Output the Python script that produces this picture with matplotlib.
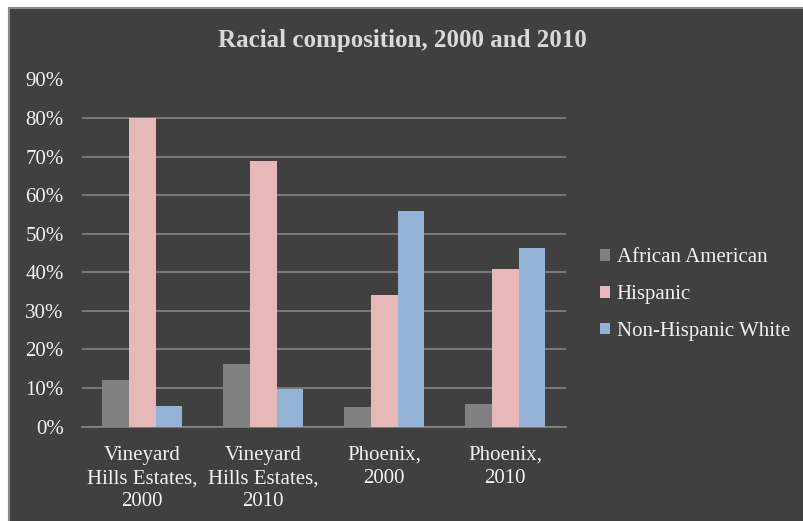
import matplotlib
matplotlib.use("Agg")
import matplotlib.pyplot as plt
from matplotlib.patches import Rectangle
from matplotlib.ticker import FuncFormatter
import numpy as np

categories = ["Vineyard\nHills Estates,\n2000", "Vineyard\nHills Estates,\n2010",
              "Phoenix,\n2000", "Phoenix,\n2010"]
african_american = [0.121, 0.162, 0.051, 0.059]
hispanic = [0.800, 0.688, 0.340, 0.409]
non_hispanic_white = [0.054, 0.098, 0.559, 0.464]

series_names = ["African American", "Hispanic", "Non-Hispanic White"]
colors = ["#808080", "#E6B9B8", "#95B3D7"]

plt.rcParams['font.family'] = ['Liberation Serif', 'DejaVu Serif']
bg = "#404040"
txt = "#f2f2f2"
grid_c = "#858585"

fig = plt.figure(figsize=(8.04, 5.21), dpi=100, facecolor="white")
# chart frame (white margin top/left, cropped at right/bottom)
fig.patches.append(Rectangle((8.5 / 804, -0.05), 1.1, 1.05 - 8.5 / 521,
                             transform=fig.transFigure, facecolor=bg,
                             edgecolor="#8a8a8a", linewidth=1.5, zorder=-10))

ax = fig.add_axes([81.7 / 804, 1 - 426.5 / 521, 484 / 804, 347 / 521])
ax.set_facecolor(bg)

x = np.arange(len(categories))
w = 0.22
for i, (vals, name, c) in enumerate(zip([african_american, hispanic, non_hispanic_white],
                                        series_names, colors)):
    ax.bar(x + (i - 1) * w, vals, width=w, color=c, label=name, zorder=3)

ax.set_xlim(-0.5, 3.5)
ax.set_ylim(0, 0.9)
ax.set_yticks(np.arange(0, 0.91, 0.1))
ax.yaxis.set_major_formatter(FuncFormatter(lambda v, p: f"{v * 100:.0f}%"))
ax.set_xticks(x)
ax.set_xticklabels(categories, linespacing=1.3)
ax.tick_params(axis="y", length=0, pad=13, labelsize=15, labelcolor=txt)
ax.tick_params(axis="x", length=0, pad=14, labelsize=15, labelcolor=txt)
ax.grid(axis="y", color=grid_c, linewidth=1.2, zorder=0)
for s in ["top", "right", "left"]:
    ax.spines[s].set_visible(False)
ax.spines["bottom"].set_color(grid_c)
ax.spines["bottom"].set_linewidth(1.2)

fig.text(0.5, 1 - 40 / 521, "Racial composition, 2000 and 2010", ha="center",
         va="center", fontsize=18, fontweight="bold", color="#d9d9d9")

leg = ax.legend(loc="center left", bbox_to_anchor=(1.071, 0.38), frameon=False,
                fontsize=15, labelcolor=txt, handlelength=0.5, handleheight=0.5,
                handletextpad=0.3, labelspacing=0.85, borderpad=0, borderaxespad=0)

fig.savefig("out.png", dpi=100, facecolor="white")
